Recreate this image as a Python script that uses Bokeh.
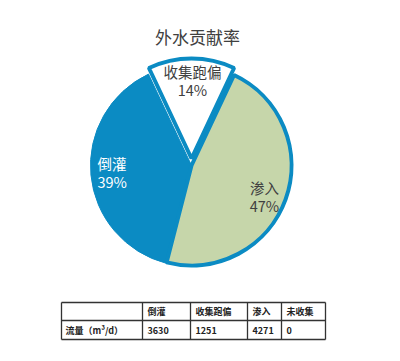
import math
from bokeh.plotting import figure
from bokeh.models import Range1d
from bokeh.core.properties import value
from bokeh.embed import file_html
from bokeh.resources import INLINE

# ---- data ----
title = "外水贡献率"
categories = ["倒灌", "收集跑偏", "渗入", "未收集"]
flows = [3630, 1251, 4271, 0]
percents = [39, 14, 47, 0]
row_label = "流量（m³/d）"

BLUE = "#0b8bc3"
GREEN = "#c6d6aa"
DARK = "#404040"
FONT = "Noto Sans CJK SC"

W, H = 400, 361
p = figure(width=W, height=H, x_range=Range1d(0, W), y_range=Range1d(0, H),
           output_backend="svg", toolbar_location=None, min_border=0,
           x_axis_type=None, y_axis_type=None)
p.xgrid.visible = False
p.ygrid.visible = False
p.outline_line_color = None
p.background_fill_color = "white"
p.border_fill_color = "white"


def X(px):
    return px


def Y(py):
    return H - py


# ---- title ----
p.text(x=[X(197)], y=[Y(36)], text=[title], text_font=value(FONT),
       text_font_size="17px", text_color=DARK, text_align="center",
       text_baseline="middle")

# ---- pie ----
total = sum(percents)
fr = [v / total for v in percents]
a0 = math.radians(90 - fr[1] * 180)
ang = {}
cur = a0
for idx in [1, 0, 2, 3]:
    s = cur
    e = cur + fr[idx] * 2 * math.pi
    ang[idx] = (s, e)
    cur = e

cx, cy, r = X(191), Y(165), 101
# 倒灌
p.wedge(x=[cx], y=[cy], radius=r, start_angle=[ang[0][0]], end_angle=[ang[0][1]],
        fill_color=BLUE, line_color=BLUE, line_width=1)
# 渗入
p.wedge(x=[cx], y=[cy], radius=r - 1, start_angle=[ang[2][0]], end_angle=[ang[2][1]],
        fill_color=GREEN, line_color=BLUE, line_width=4)
# 收集跑偏 (exploded)
p.wedge(x=[cx], y=[cy + 7], radius=r - 1, start_angle=[ang[1][0]], end_angle=[ang[1][1]],
        fill_color="white", line_color=BLUE, line_width=4)

pct = [f"{v}%" for v in percents]

p.text(x=[X(192), X(192)], y=[Y(71), Y(89)], text=[categories[1], pct[1]],
       text_font=value(FONT), text_font_size="14.5px", text_color=DARK,
       text_align="center", text_baseline="middle")
p.text(x=[X(97), X(97)], y=[Y(163), Y(181)], text=[categories[0], pct[0]],
       text_font=value(FONT), text_font_size="14.5px", text_color="white",
       text_align="left", text_baseline="middle")
p.text(x=[X(264), X(264)], y=[Y(187), Y(205)], text=[categories[2], pct[2]],
       text_font=value(FONT), text_font_size="14.5px", text_color=DARK,
       text_align="center", text_baseline="middle")

# ---- table ----
col_edges = [61, 142, 190, 247, 281, 325]
row_edges = [302, 320, 339]
xs, ys = [], []
for cxe in col_edges:
    xs.append([X(cxe), X(cxe)])
    ys.append([Y(row_edges[0]), Y(row_edges[-1])])
for rye in row_edges:
    xs.append([X(col_edges[0]), X(col_edges[-1])])
    ys.append([Y(rye), Y(rye)])
p.multi_line(xs=xs, ys=ys, line_color="#333333", line_width=1.3)

hdr_y = Y((row_edges[0] + row_edges[1]) / 2)
row_y = Y((row_edges[1] + row_edges[2]) / 2)
tx, ty, tt = [], [], []
for i, c in enumerate(categories):
    tx.append(X(col_edges[i + 1] + 5))
    ty.append(hdr_y)
    tt.append(c)
tx.append(X(col_edges[0] + 4))
ty.append(row_y)
tt.append(row_label)
for i, v in enumerate(flows):
    tx.append(X(col_edges[i + 1] + 5))
    ty.append(row_y)
    tt.append(str(v))
p.text(x=tx, y=ty, text=tt, text_font=value(FONT), text_font_size="9px",
       text_font_style="bold", text_color="#222222", text_align="left",
       text_baseline="middle")

open("out.html", "w").write(file_html(p, INLINE))
